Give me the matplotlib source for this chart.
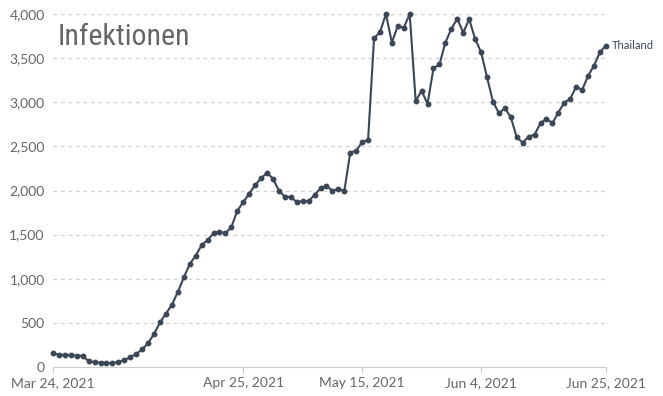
import numpy as np
import pandas as pd
import matplotlib
matplotlib.use("Agg")
from matplotlib import pyplot as plt
import matplotlib.dates as mdates
from matplotlib.ticker import FuncFormatter

# daily values, Mar 24 2021 -> Jun 25 2021
start = "2021-03-24"
values = [155, 140, 138, 135, 130, 127, 65, 55, 50, 45,
          45, 57, 80, 110, 147, 200, 270, 375, 505, 605,
          705, 850, 1015, 1165, 1262, 1380, 1440, 1515, 1535, 1515,
          1585, 1770, 1868, 1965, 2060, 2140, 2200, 2135, 2000, 1930,
          1925, 1870, 1880, 1880, 1950, 2025, 2055, 1995, 2020, 1995,
          2430, 2452, 2547, 2574, 3726, 3794, 4000, 3677, 3866, 3844,
          4000, 3016, 3129, 2982, 3386, 3428, 3677, 3832, 3946, 3790,
          3941, 3719, 3568, 3285, 3008, 2876, 2933, 2831, 2604, 2543,
          2611, 2634, 2763, 2815, 2763, 2884, 2997, 3039, 3178, 3141,
          3299, 3416, 3568, 3643]
dates = pd.date_range(start, periods=len(values), freq="D")

xtick_dates = ["2021-03-24", "2021-04-25", "2021-05-15", "2021-06-04", "2021-06-25"]
xtick_labels = ["Mar 24, 2021", "Apr 25, 2021", "May 15, 2021", "Jun 4, 2021", "Jun 25, 2021"]
yticks = [0, 500, 1000, 1500, 2000, 2500, 3000, 3500, 4000]

plt.rcParams["font.family"] = ["Lato", "DejaVu Sans"]
line_col = "#3b4656"
grey = "#666666"

fig = plt.figure(figsize=(6.63, 3.96), dpi=100)
ax = fig.add_axes([0.0799, 0.0732, 0.834, 0.8914])

ax.plot(dates, values, color=line_col, lw=1.5, marker="o", ms=3.2, zorder=3, clip_on=False)

ax.set_xlim(dates[0], dates[-1])
ax.set_ylim(0, 4000)
ax.set_yticks(yticks)
ax.yaxis.set_major_formatter(FuncFormatter(lambda v, p: f"{int(v):,}"))
ax.set_xticks(pd.to_datetime(xtick_dates))
ax.set_xticklabels(xtick_labels)

for s in ["top", "right", "left"]:
    ax.spines[s].set_visible(False)
ax.spines["bottom"].set_color("#cccccc")
ax.tick_params(axis="y", length=0, pad=6, labelsize=10, labelcolor=grey)
ax.tick_params(axis="x", length=4, color="#cccccc", pad=3, labelsize=10, labelcolor=grey)
for v in yticks[1:]:
    ax.axhline(v, color="#d0d0d0", lw=0.9, ls=(0, (3, 3)), zorder=1)

ax.text(0.008, 0.935, "Infektionen", transform=ax.transAxes, fontsize=21.5,
        color=grey, family=["Roboto Condensed", "Roboto"], fontstretch="condensed",
        va="center", ha="left")
ax.annotate("Thailand", (dates[-1], values[-1]), xytext=(4, 0), textcoords="offset points",
            fontsize=8, color=line_col, va="center", ha="left", annotation_clip=False)

fig.savefig("out.png", dpi=100)
